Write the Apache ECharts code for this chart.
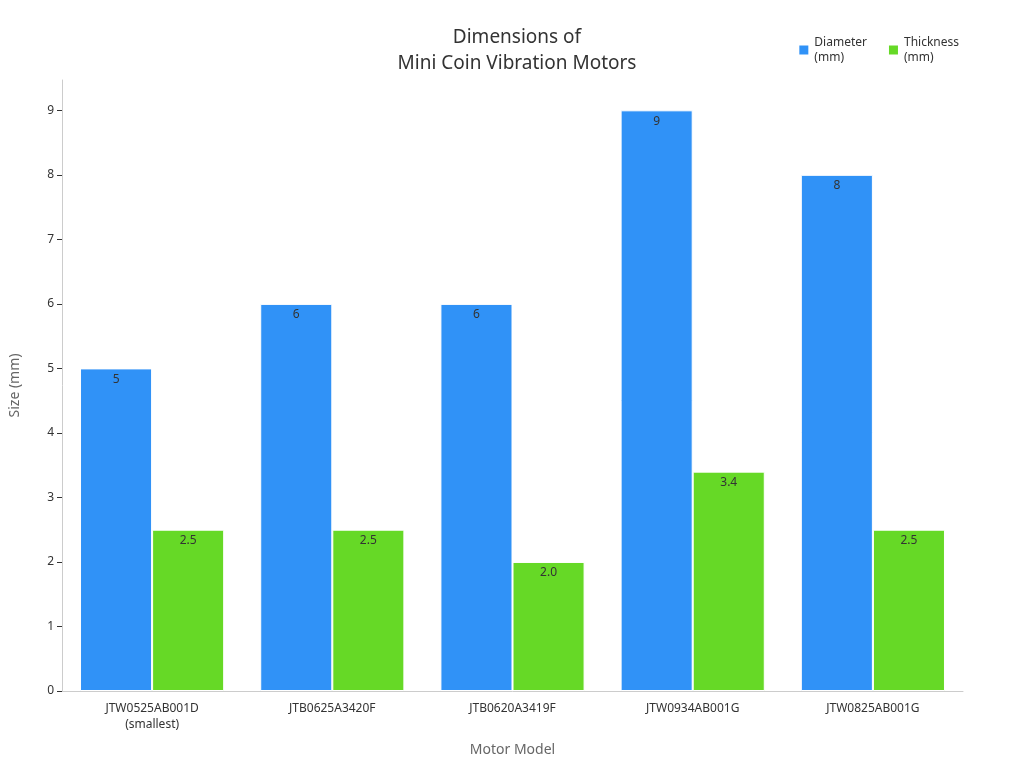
<!DOCTYPE html>
<html><head><meta charset="utf-8">
<script src="https://cdn.jsdelivr.net/npm/echarts@6/dist/echarts.min.js"></script>
<style>html,body{margin:0;padding:0}#c{width:1024px;height:768px}</style>
</head><body><div id="c"></div>
<script>
const categories = ["JTW0525AB001D\n(smallest)", "JTB0625A3420F", "JTB0620A3419F", "JTW0934AB001G", "JTW0825AB001G"];
const diameter = [5, 6, 6, 9, 8];
const thickness = [2.5, 2.5, 2.0, 3.4, 2.5];
const chart = echarts.init(document.getElementById('c'));
const font = "'Noto Sans', sans-serif";
chart.setOption({
  textStyle: {fontFamily: font},
  title: {text: "Dimensions of\nMini Coin Vibration Motors", left: 512, textAlign: 'center', top: 20,
    textStyle: {fontSize: 19, fontWeight: 'normal', color: '#333', lineHeight: 26, fontFamily: font}},
  legend: {top: 30, right: 60, itemWidth: 11, itemHeight: 11, itemGap: 20, icon: 'rect',
    textStyle: {fontSize: 12, color: '#333', lineHeight: 15},
    data: [{name: "Diameter\n(mm)"}, {name: "Thickness\n(mm)"}]},
  grid: {left: 59, right: 61, top: 80, bottom: 77},
  xAxis: {type: 'category', data: categories, name: 'Motor Model', nameLocation: 'middle', nameGap: 52,
    nameTextStyle: {fontSize: 14, color: '#666'},
    axisLine: {lineStyle: {color: '#ccc'}}, axisTick: {show: false},
    axisLabel: {color: '#333', fontSize: 12, lineHeight: 16, margin: 10}},
  yAxis: {type: 'value', min: 0, max: 9.47, interval: 1, name: 'Size (mm)', nameLocation: 'middle', nameGap: 40,
    nameTextStyle: {fontSize: 14, color: '#666'},
    axisLine: {show: true, lineStyle: {color: '#ccc'}}, axisTick: {show: true, lineStyle: {color: '#333'}},
    axisLabel: {color: '#333', fontSize: 12, showMaxLabel: false}, splitLine: {show: false}},
  series: [
    {name: "Diameter\n(mm)", type: 'bar', data: diameter, barCategoryGap: '20%', barGap: '0%',
     itemStyle: {color: '#3092f7', borderColor: '#fff', borderWidth: 1},
     label: {show: true, position: 'insideTop', color: '#333', fontSize: 12}},
    {name: "Thickness\n(mm)", type: 'bar', data: thickness,
     itemStyle: {color: '#66d926', borderColor: '#fff', borderWidth: 1},
     label: {show: true, position: 'insideTop', color: '#333', fontSize: 12, formatter: p => p.value.toFixed(1)}}
  ]
});
</script></body></html>
